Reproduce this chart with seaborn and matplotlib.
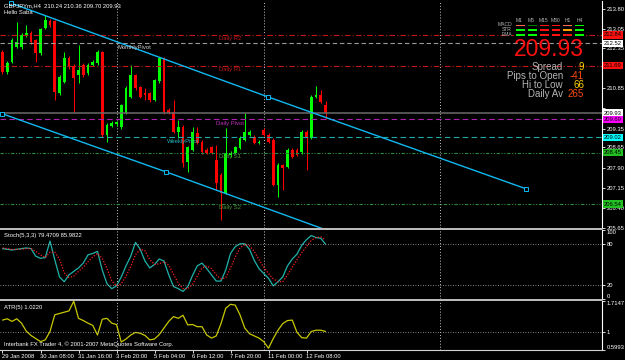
import numpy as np
import matplotlib
matplotlib.use("Agg")
import matplotlib.pyplot as plt
import matplotlib.transforms as mtransforms
from matplotlib.colors import ListedColormap
import seaborn as sns

# ---- data ----
opens = [212.20, 211.46, 211.83, 212.39, 212.39, 212.80, 212.91, 212.65, 212.16, 213.09,
         213.35, 213.35, 210.68, 211.09, 211.98, 211.68, 211.35, 211.72, 211.42, 211.72,
         211.79, 212.20, 209.12, 209.45, 209.52, 209.41, 209.93, 210.53, 211.35, 210.90,
         210.68, 210.68, 210.42, 211.12, 211.98, 210.05, 209.97, 209.23, 209.41, 208.11,
         208.56, 209.19, 208.86, 208.56, 208.67, 208.19, 207.63, 206.96, 208.37, 208.45,
         208.63, 208.93, 209.12, 209.04, 208.82, 209.30, 209.12, 208.93, 207.26, 208.00,
         207.93, 208.56, 208.56, 208.48, 209.23, 209.00, 210.53, 210.60, 210.24]
highs = [212.26, 211.86, 212.72, 213.30, 212.90, 213.21, 212.98, 212.70, 213.10, 213.58,
         213.42, 213.40, 211.33, 212.20, 212.05, 211.75, 212.46, 211.80, 211.78, 211.90,
         212.28, 212.24, 209.55, 209.62, 209.65, 210.28, 210.92, 211.72, 211.40, 210.95,
         210.86, 210.72, 211.20, 212.02, 212.02, 210.10, 210.42, 209.67, 209.48, 208.72,
         209.41, 209.41, 208.92, 208.62, 208.72, 208.74, 207.70, 209.38, 208.50, 208.72,
         209.06, 209.93, 209.30, 209.10, 208.92, 209.36, 209.18, 209.00, 208.06, 208.05,
         208.62, 208.62, 208.62, 209.30, 209.28, 210.60, 210.94, 210.79, 210.36]
lows = [211.40, 211.40, 211.79, 212.35, 212.30, 212.75, 212.50, 211.83, 212.10, 213.05,
        213.15, 210.42, 210.60, 211.05, 211.58, 209.97, 211.05, 211.28, 211.35, 211.68,
        211.72, 209.05, 208.86, 209.40, 209.45, 209.35, 209.88, 210.48, 210.80, 210.48,
        210.42, 210.35, 210.38, 211.05, 209.90, 209.88, 209.18, 209.00, 207.93, 207.74,
        208.50, 208.78, 208.42, 208.40, 208.40, 207.07, 205.96, 206.90, 208.30, 208.40,
        208.58, 208.88, 209.08, 208.76, 208.78, 209.06, 208.80, 207.20, 206.81, 207.07,
        207.88, 208.25, 208.32, 208.42, 207.81, 208.95, 210.48, 210.30, 209.70]
closes = [211.46, 211.79, 212.65, 212.57, 212.83, 212.91, 212.57, 212.16, 213.06, 213.39,
          213.21, 210.71, 211.27, 211.98, 211.64, 211.23, 211.53, 211.35, 211.72, 211.83,
          212.20, 209.12, 209.49, 209.56, 209.60, 210.23, 210.86, 211.35, 210.86, 210.53,
          210.60, 210.42, 211.16, 211.98, 209.97, 209.93, 209.23, 209.41, 208.08, 208.67,
          209.23, 208.82, 208.48, 208.45, 208.45, 207.33, 206.96, 208.45, 208.45, 208.67,
          209.00, 209.23, 209.23, 208.82, 208.86, 209.12, 208.86, 207.26, 208.00, 207.89,
          208.56, 208.30, 208.37, 209.23, 209.00, 210.53, 210.60, 210.34, 209.93]

stoch_main = [73, 72, 71, 72, 73, 74, 73, 62, 59, 60, 84, 57, 32, 25, 35, 40, 45, 52, 64, 66,
              69, 42, 22, 15, 19, 32, 48, 62, 82, 72, 55, 45, 50, 58, 55, 35, 18, 15, 11, 18,
              34, 48, 52, 44, 35, 26, 26, 42, 66, 76, 80, 80, 72, 56, 44, 37, 30, 19, 25, 32,
              48, 58, 65, 78, 86, 92, 89, 88, 79.47]
stoch_signal = [74, 73, 72, 72, 72, 73, 73, 69, 64, 60, 68, 68, 58, 38, 31, 33, 40, 46, 54, 61,
                66, 59, 44, 26, 19, 22, 33, 47, 64, 72, 70, 57, 50, 51, 54, 49, 36, 23, 15, 15,
                21, 33, 45, 48, 44, 35, 29, 31, 45, 61, 74, 79, 77, 69, 57, 46, 37, 29, 25, 25,
                35, 46, 57, 67, 76, 85, 89, 90, 85.98]
atr = [1.28, 1.31, 1.25, 1.31, 1.21, 1.03, 0.93, 0.86, 0.79, 0.83, 1.02, 1.40, 1.43, 1.46,
       1.49, 1.71, 1.32, 1.27, 1.21, 1.16, 0.94, 1.30, 1.32, 1.21, 1.18, 0.78, 0.85, 0.94,
       1.00, 0.98, 0.93, 0.83, 0.85, 0.95, 1.10, 1.25, 1.36, 1.32, 1.39, 1.17, 1.18, 1.13,
       1.13, 0.94, 0.87, 0.92, 1.20, 1.55, 1.64, 1.62, 1.40, 1.10, 0.97, 0.92, 0.87, 0.79,
       0.64, 0.86, 1.05, 1.20, 1.27, 1.28, 1.00, 0.88, 0.87, 1.02, 1.05, 1.05, 1.022]

date_idx = [0, 8, 16, 24, 32, 40, 48, 56, 64]
date_labels = ["29 Jan 2008", "30 Jan 08:00", "31 Jan 16:00", "3 Feb 20:00", "5 Feb 04:00",
               "6 Feb 12:00", "7 Feb 20:00", "11 Feb 00:00", "12 Feb 08:00"]
separator_idx = [24, 55, 92]

# axis labels; the ones hidden under price tags in the chart are left blank
price_ticks = [213.80, 213.05, 212.35, 211.60, 210.85, 210.10, 209.35, 208.65, 207.90,
               207.15, 206.40, 205.65]
hidden_ticks = [211.60, 210.10]

level_names = ["Daily R2", "MonthlyPivot", "Daily R1", "Daily Pivot", "WeeklyPivot", "Daily S1", "Daily S2"]
level_values = [212.84, 212.52, 211.69, 209.69, 209.02, 208.45, 206.54]
bid = 209.93

channel_upper_x = [1.79, 55.9, 110.2]
channel_upper_y = [214.02, 210.53, 207.11]
channel_lower_x = [0.0, 34.4, 110.2]
channel_lower_y = [209.90, 207.74, 202.88]

tf_names = ["M1", "M5", "M15", "M30", "H1", "H4"]
row_names = ["MACD", "STR", "EMA"]
macd_state = [2, 3, 1, 1, 2, 0]
str_state = [0, 0, 1, 1, 4, 0]
ema_state = [0, 0, 1, 1, 1, 0]

info_names = ["Spread", "Pips to Open", "Hi to Low", "Daily Av"]
info_values = ["9", "-41", "66", "265"]

# ---- styles ----
sns.set_style("dark", {"axes.facecolor": "black", "figure.facecolor": "black"})
plt.rcParams["font.family"] = ["Liberation Sans", "DejaVu Sans"]

W, H = 625, 360


def box(x0, y0, x1, y1):
    return [x0 / W, 1 - y1 / H, (x1 - x0) / W, (y1 - y0) / H]


def fx(x):
    return x / W


def fy(y):
    return 1 - y / H


SMALL = 4.2
GREY = "#b4b4b4"

fig = plt.figure(figsize=(6.25, 3.6), dpi=100, facecolor="black")
ax = fig.add_axes(box(0, 1, 602, 228))
ax_st = fig.add_axes(box(0, 230, 602, 299))
ax_atr = fig.add_axes(box(0, 301, 602, 350))

x0, x1 = -2.5 / 4.75, (602 - 2.5) / 4.75
for a in (ax, ax_st, ax_atr):
    a.set_facecolor("black")
    a.set_xlim(x0, x1)
    a.grid(False)
    for s in ("top", "left", "bottom"):
        a.spines[s].set_visible(False)
    a.spines["right"].set_color("white")
    a.spines["right"].set_linewidth(0.8)
    a.yaxis.tick_right()
    a.tick_params(axis="y", colors="white", labelsize=SMALL, length=2, width=0.6, pad=1.5)
    a.tick_params(axis="x", bottom=False, labelbottom=False)
    for s in separator_idx:
        a.axvline(s, color="#c8c8c8", lw=0.7, ls=(0, (1, 2)))

# ---- candles ----
o = np.array(opens)
c = np.array(closes)
idx = np.arange(len(o))
col = np.where(c >= o, "#00ff00", "#ff0000")
ax.vlines(idx, lows, highs, colors=col, lw=0.75)
ax.bar(idx, np.maximum(np.abs(c - o), 0.03), bottom=np.minimum(o, c), width=0.62,
       color=col, linewidth=0)

ax.set_ylim(205.66, 214.10)
ax.set_yticks(price_ticks)
ax.set_yticklabels(["" if t in hidden_ticks else f"{t:.2f}" for t in price_ticks])

# pivot levels
level_style = {
    "Daily R2": ("#c01818", (0, (5, 2, 1, 2)), 47.9, "center"),
    "MonthlyPivot": ("#9a9a9a", (0, (4, 2.5)), 24.3, "left"),
    "Daily R1": ("#c01818", (0, (5, 2, 1, 2)), 47.9, "center"),
    "Daily Pivot": ("#b020b0", (0, (5, 3)), 47.9, "center"),
    "WeeklyPivot": ("#20a8a8", (0, (5, 3)), 38.0, "center"),
    "Daily S1": ("#2e8b3a", (0, (3, 1.5, 1, 1.5, 1, 1.5)), 47.9, "center"),
    "Daily S2": ("#2e8b3a", (0, (3, 1.5, 1, 1.5, 1, 1.5)), 47.9, "center"),
}
text_col = {"Daily R2": "#c01818", "MonthlyPivot": "#d0d0d0", "Daily R1": "#c01818",
            "Daily Pivot": "#c030c0", "WeeklyPivot": "#20b8b8", "Daily S1": "#4f9a3a",
            "Daily S2": "#4f9a3a"}
for name, val in zip(level_names, level_values):
    color, dash, tx, ha = level_style[name]
    ax.axhline(val, color=color, lw=0.8, ls=dash)
    ax.text(tx, val - 0.04, name, color=text_col[name], fontsize=SMALL, ha=ha, va="top")
ax.axhline(bid, color="#6a6a6a", lw=1.1)

# channel
ax.plot(channel_upper_x, channel_upper_y, color="#10b8f0", lw=1.0)
ax.plot(channel_lower_x, channel_lower_y, color="#10b8f0", lw=1.0)
ax.plot(channel_upper_x, channel_upper_y, ls="none", marker="s", ms=2.6, mfc="black",
        mec="#10b8f0", mew=0.7)
ax.plot(channel_lower_x[:2], channel_lower_y[:2], ls="none", marker="s", ms=2.6, mfc="black",
        mec="#10b8f0", mew=0.7)

# price tags on the axis
tr = mtransforms.blended_transform_factory(ax.transAxes, ax.transData)
tag_colors = ["#ff1010", "#ffffff", "#ff1010", "#ffffff", "#ff00ff", "#00ffff", "#22c022", "#22c022"]
tag_values = [212.84, 212.52, 211.69, bid, 209.69, 209.02, 208.45, 206.54]
for v, tc in zip(tag_values, tag_colors):
    ax.text(1.003, v, f"{v:.2f}", transform=tr, fontsize=SMALL, color="black", ha="left",
            va="center", clip_on=False,
            bbox=dict(boxstyle="square,pad=0.2", fc=tc, ec="none"))

# ---- stochastic ----
sns.lineplot(x=idx, y=stoch_main, ax=ax_st, color="#20b2aa", lw=0.9)
sns.lineplot(x=idx, y=stoch_signal, ax=ax_st, color="#ff2020", lw=0.9, linestyle=(0, (1, 1.3)))
ax_st.set_ylim(0, 100)
for lv in (80, 20):
    ax_st.axhline(lv, color="#b0b0b0", lw=0.6, ls=(0, (1, 2)))
ax_st.set_yticks([100, 80, 20, 0])
ax_st.set_yticklabels(["100", "80", "20", "0"])
labs = ax_st.get_yticklabels()
labs[0].set_va("top")
labs[-1].set_va("bottom")
ax_st.set_ylabel("")

# ---- ATR ----
sns.lineplot(x=idx, y=atr, ax=ax_atr, color="#c8c800", lw=0.9)
ax_atr.set_ylim(0.5993, 1.7147)
ax_atr.axhline(1.0, color="#b0b0b0", lw=0.6, ls=(0, (1, 2)))
ax_atr.set_yticks([1.7147, 1.0, 0.5993])
ax_atr.set_yticklabels(["1.7147", "1", "0.5993"])
labs = ax_atr.get_yticklabels()
labs[0].set_va("top")
labs[-1].set_va("bottom")
ax_atr.set_ylabel("")
ax_atr.spines["bottom"].set_visible(True)
ax_atr.spines["bottom"].set_color("#d0d0d0")
ax_atr.spines["bottom"].set_linewidth(0.8)
ax_atr.set_xticks(date_idx)
ax_atr.set_xticklabels(date_labels)
ax_atr.tick_params(axis="x", bottom=True, labelbottom=True, colors="white", labelsize=SMALL,
                   length=2, width=0.6, pad=1)
for lab in ax_atr.get_xticklabels():
    lab.set_ha("left")

# panel separators
for yy in (229, 300):
    fig.add_artist(plt.Line2D([0, fx(602)], [fy(yy), fy(yy)], color="#c0c0c0", lw=1.4))

# ---- texts ----
fig.text(fx(4), fy(6), "GBPJPYm,H4  210.24 210.36 209.70 209.93", color="white", fontsize=SMALL, va="center")
fig.text(fx(4), fy(12.5), "Hello Saba", color="white", fontsize=SMALL, va="center")
fig.text(fx(4), fy(235), "Stoch(5,3,3) 79.4709 85.9822", color="white", fontsize=SMALL, va="center")
fig.text(fx(4), fy(307), "ATR(5) 1.0220", color="white", fontsize=SMALL, va="center")
fig.text(fx(4), fy(344), "Interbank FX Trader 4, \u00a9 2001-2007 MetaQuotes Software Corp.",
         color="white", fontsize=SMALL, va="center")

# trend table
ax_tab = fig.add_axes(box(514, 22.5, 585, 36.5))
state_cmap = ListedColormap(["#00ff00", "#ff1010", "#ff6a50", "#007a00", "#ffa000"])
sns.heatmap(np.array([macd_state, str_state, ema_state]), ax=ax_tab, cmap=state_cmap,
            vmin=-0.5, vmax=4.5, cbar=False, linewidths=1.0, linecolor="black",
            xticklabels=False, yticklabels=False)
ax_tab.set_axis_off()
for k, name in enumerate(tf_names):
    fig.text(fx(519.5 + 12 * k), fy(20), name, color=GREY, fontsize=3.6, ha="center", va="center")
for k, name in enumerate(row_names):
    fig.text(fx(512), fy(25 + 4.6 * k), name, color=GREY, fontsize=3.6, ha="right", va="center")

fig.text(fx(584), fy(49), "209.93", color="#ff1010", fontsize=16.5, ha="right", va="center")
info_colors = ["#ffd200", "#ff4a10", "#ffd200", "#ff4a10"]
for k, (nm, vl) in enumerate(zip(info_names, info_values)):
    yy = fy(67 + 9 * k)
    fig.text(fx(563), yy, nm, color=GREY, fontsize=7, ha="right", va="center")
    fig.text(fx(584), yy, vl, color=info_colors[k], fontsize=7, ha="right", va="center")

fig.savefig("out.png", dpi=100, facecolor="black")
